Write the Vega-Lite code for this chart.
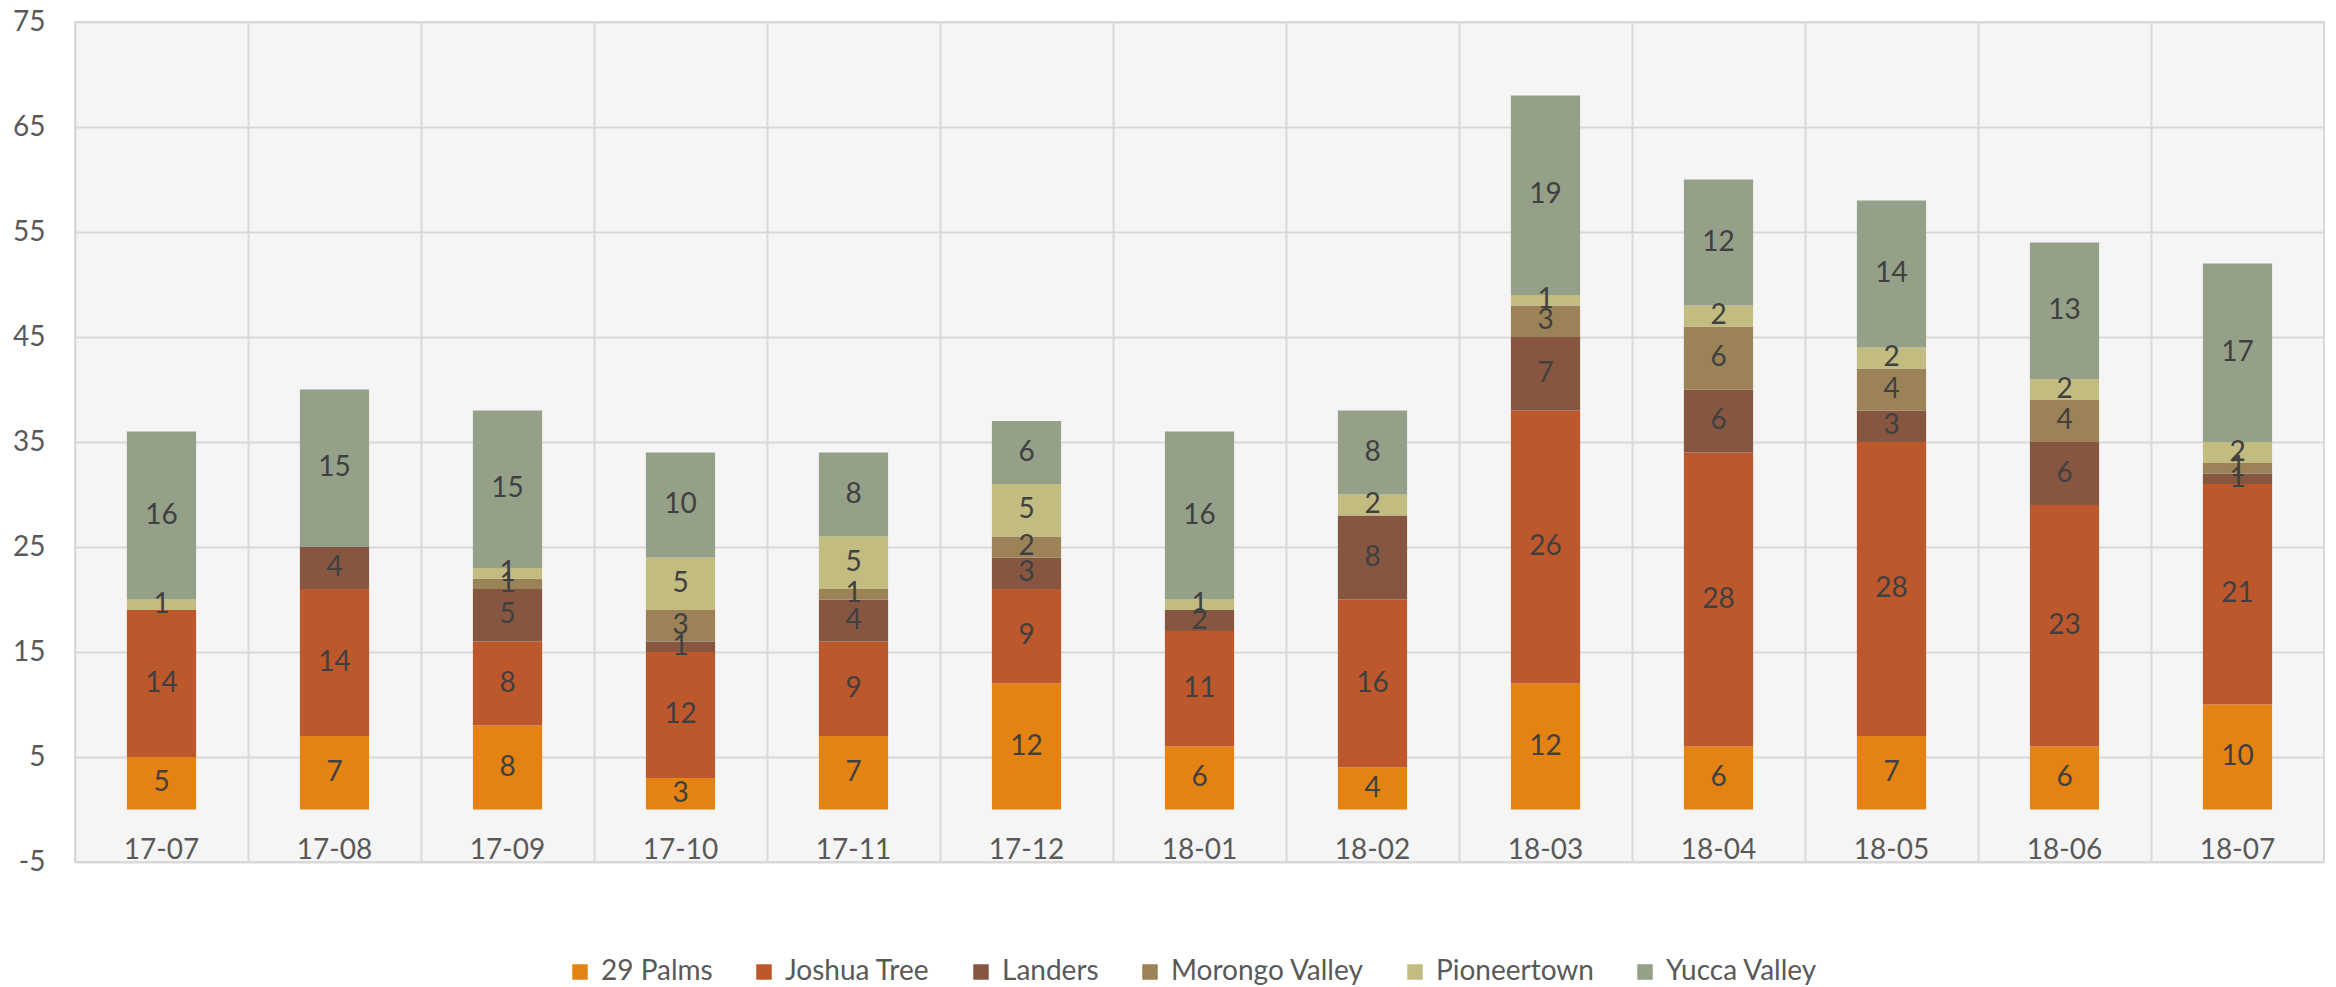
{
  "$schema": "https://vega.github.io/schema/vega-lite/v6.json",
  "width": 2249,
  "height": 840,
  "autosize": "none",
  "padding": {"left": 75, "top": 22, "right": 12, "bottom": 125},
  "background": "white",
  "config": {
    "font": "Lato",
    "view": {"stroke": "#d9d9d9", "strokeWidth": 2, "fill": "#f5f5f5"}
  },
  "data": {
    "values": [
      {"month": "17-07", "series": "29 Palms", "value": 5},
      {"month": "17-07", "series": "Joshua Tree", "value": 14},
      {"month": "17-07", "series": "Pioneertown", "value": 1},
      {"month": "17-07", "series": "Yucca Valley", "value": 16},
      {"month": "17-08", "series": "29 Palms", "value": 7},
      {"month": "17-08", "series": "Joshua Tree", "value": 14},
      {"month": "17-08", "series": "Landers", "value": 4},
      {"month": "17-08", "series": "Yucca Valley", "value": 15},
      {"month": "17-09", "series": "29 Palms", "value": 8},
      {"month": "17-09", "series": "Joshua Tree", "value": 8},
      {"month": "17-09", "series": "Landers", "value": 5},
      {"month": "17-09", "series": "Morongo Valley", "value": 1},
      {"month": "17-09", "series": "Pioneertown", "value": 1},
      {"month": "17-09", "series": "Yucca Valley", "value": 15},
      {"month": "17-10", "series": "29 Palms", "value": 3},
      {"month": "17-10", "series": "Joshua Tree", "value": 12},
      {"month": "17-10", "series": "Landers", "value": 1},
      {"month": "17-10", "series": "Morongo Valley", "value": 3},
      {"month": "17-10", "series": "Pioneertown", "value": 5},
      {"month": "17-10", "series": "Yucca Valley", "value": 10},
      {"month": "17-11", "series": "29 Palms", "value": 7},
      {"month": "17-11", "series": "Joshua Tree", "value": 9},
      {"month": "17-11", "series": "Landers", "value": 4},
      {"month": "17-11", "series": "Morongo Valley", "value": 1},
      {"month": "17-11", "series": "Pioneertown", "value": 5},
      {"month": "17-11", "series": "Yucca Valley", "value": 8},
      {"month": "17-12", "series": "29 Palms", "value": 12},
      {"month": "17-12", "series": "Joshua Tree", "value": 9},
      {"month": "17-12", "series": "Landers", "value": 3},
      {"month": "17-12", "series": "Morongo Valley", "value": 2},
      {"month": "17-12", "series": "Pioneertown", "value": 5},
      {"month": "17-12", "series": "Yucca Valley", "value": 6},
      {"month": "18-01", "series": "29 Palms", "value": 6},
      {"month": "18-01", "series": "Joshua Tree", "value": 11},
      {"month": "18-01", "series": "Landers", "value": 2},
      {"month": "18-01", "series": "Pioneertown", "value": 1},
      {"month": "18-01", "series": "Yucca Valley", "value": 16},
      {"month": "18-02", "series": "29 Palms", "value": 4},
      {"month": "18-02", "series": "Joshua Tree", "value": 16},
      {"month": "18-02", "series": "Landers", "value": 8},
      {"month": "18-02", "series": "Pioneertown", "value": 2},
      {"month": "18-02", "series": "Yucca Valley", "value": 8},
      {"month": "18-03", "series": "29 Palms", "value": 12},
      {"month": "18-03", "series": "Joshua Tree", "value": 26},
      {"month": "18-03", "series": "Landers", "value": 7},
      {"month": "18-03", "series": "Morongo Valley", "value": 3},
      {"month": "18-03", "series": "Pioneertown", "value": 1},
      {"month": "18-03", "series": "Yucca Valley", "value": 19},
      {"month": "18-04", "series": "29 Palms", "value": 6},
      {"month": "18-04", "series": "Joshua Tree", "value": 28},
      {"month": "18-04", "series": "Landers", "value": 6},
      {"month": "18-04", "series": "Morongo Valley", "value": 6},
      {"month": "18-04", "series": "Pioneertown", "value": 2},
      {"month": "18-04", "series": "Yucca Valley", "value": 12},
      {"month": "18-05", "series": "29 Palms", "value": 7},
      {"month": "18-05", "series": "Joshua Tree", "value": 28},
      {"month": "18-05", "series": "Landers", "value": 3},
      {"month": "18-05", "series": "Morongo Valley", "value": 4},
      {"month": "18-05", "series": "Pioneertown", "value": 2},
      {"month": "18-05", "series": "Yucca Valley", "value": 14},
      {"month": "18-06", "series": "29 Palms", "value": 6},
      {"month": "18-06", "series": "Joshua Tree", "value": 23},
      {"month": "18-06", "series": "Landers", "value": 6},
      {"month": "18-06", "series": "Morongo Valley", "value": 4},
      {"month": "18-06", "series": "Pioneertown", "value": 2},
      {"month": "18-06", "series": "Yucca Valley", "value": 13},
      {"month": "18-07", "series": "29 Palms", "value": 10},
      {"month": "18-07", "series": "Joshua Tree", "value": 21},
      {"month": "18-07", "series": "Landers", "value": 1},
      {"month": "18-07", "series": "Morongo Valley", "value": 1},
      {"month": "18-07", "series": "Pioneertown", "value": 2},
      {"month": "18-07", "series": "Yucca Valley", "value": 17}
    ]
  },
  "encoding": {
    "x": {
      "field": "month",
      "type": "nominal",
      "sort": null,
      "scale": {"paddingInner": 0, "paddingOuter": 0},
      "axis": {
        "title": null,
        "orient": "bottom",
        "domain": false,
        "ticks": false,
        "tickSize": 0,
        "grid": true,
        "gridColor": "#d9d9d9",
        "gridWidth": 2,
        "bandPosition": 0,
        "labelAngle": 0,
        "labelBaseline": "alphabetic",
        "labelPadding": -4,
        "labelFontSize": 28,
        "labelColor": "#595959",
        "labelFont": "Lato"
      }
    }
  },
  "layer": [
    {
      "mark": {"type": "rule", "color": "#d9d9d9", "strokeWidth": 2},
      "encoding": {"y": {"datum": 0, "type": "quantitative"}}
    },
    {
      "mark": {"type": "bar", "width": {"band": 0.4}},
      "encoding": {
        "y": {
          "field": "value",
          "type": "quantitative",
          "stack": "zero",
          "scale": {"domain": [-5, 75], "nice": false, "zero": false},
          "axis": {
            "title": null,
            "values": [-5, 5, 15, 25, 35, 45, 55, 65, 75],
            "labelExpr": "'' + datum.value",
            "domain": false,
            "ticks": false,
            "tickSize": 0,
            "labelPadding": 30,
            "labelFontSize": 28,
            "labelColor": "#595959",
            "labelFont": "Lato",
            "grid": true,
            "gridColor": "#d9d9d9",
            "gridWidth": 2
          }
        },
        "color": {
          "field": "series",
          "type": "nominal",
          "scale": {
            "domain": ["29 Palms", "Joshua Tree", "Landers", "Morongo Valley", "Pioneertown", "Yucca Valley"],
            "range": ["#E48312", "#BD582C", "#865640", "#9B8357", "#C2BC80", "#94A088"]
          },
          "legend": {
            "title": null,
            "orient": "none",
            "legendX": 491,
            "legendY": 936,
            "direction": "horizontal",
            "symbolType": "square",
            "symbolSize": 240,
            "symbolStrokeWidth": 0,
            "labelFontSize": 28,
            "labelFont": "Lato",
            "labelColor": "#595959",
            "labelOffset": 7,
            "labelLimit": 0,
            "columnPadding": 37
          }
        },
        "order": {"field": "series", "sort": "ascending"}
      }
    },
    {
      "mark": {"type": "text", "fontSize": 28, "color": "#404040", "font": "Lato", "baseline": "middle"},
      "encoding": {
        "y": {"field": "value", "type": "quantitative", "stack": "zero", "bandPosition": 0.5},
        "detail": {"field": "series"},
        "order": {"field": "series", "sort": "ascending"},
        "text": {"field": "value", "type": "quantitative"}
      }
    }
  ]
}
